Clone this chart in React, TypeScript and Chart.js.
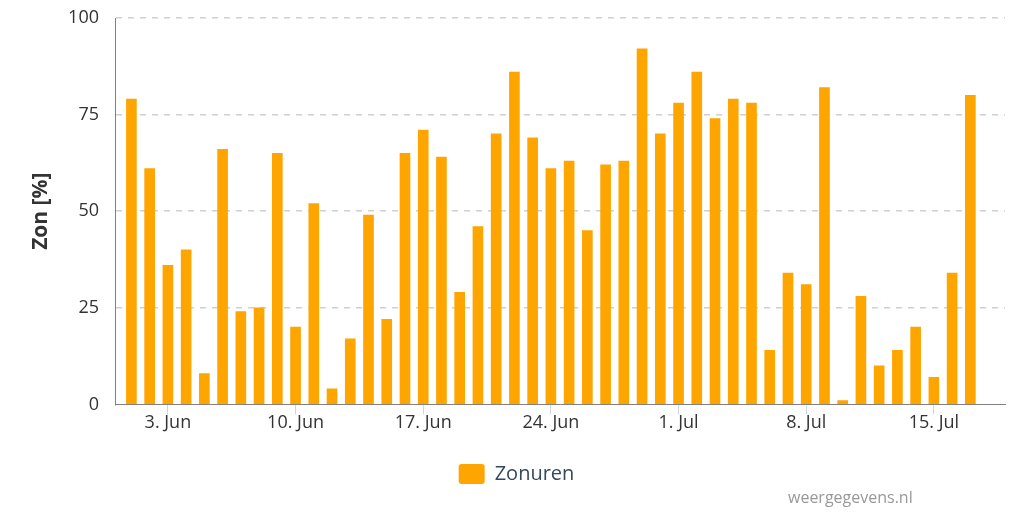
import React, { useEffect, useRef } from 'react';
import { Chart, registerables } from 'chart.js';

Chart.register(...registerables);

const days = [
  '06-01', '06-02', '06-03', '06-04', '06-05', '06-06', '06-07', '06-08', '06-09', '06-10',
  '06-11', '06-12', '06-13', '06-14', '06-15', '06-16', '06-17', '06-18', '06-19', '06-20',
  '06-21', '06-22', '06-23', '06-24', '06-25', '06-26', '06-27', '06-28', '06-29', '06-30',
  '07-01', '07-02', '07-03', '07-04', '07-05', '07-06', '07-07', '07-08', '07-09', '07-10',
  '07-11', '07-12', '07-13', '07-14', '07-15', '07-16', '07-17',
];

const sunPercent = [
  79, 61, 36, 40, 8, 66, 24, 25, 65, 20,
  52, 4, 17, 49, 22, 65, 71, 64, 29, 46,
  70, 86, 69, 61, 63, 45, 62, 63, 92, 70,
  78, 86, 74, 79, 78, 14, 34, 31, 82, 1,
  28, 10, 14, 20, 7, 34, 80,
];

const tickDays = ['06-03', '06-10', '06-17', '06-24', '07-01', '07-08', '07-15'];
const tickLabels = ['3. Jun', '10. Jun', '17. Jun', '24. Jun', '1. Jul', '8. Jul', '15. Jul'];
const yTicks = [0, 25, 50, 75, 100];

const seriesName = 'Zonuren';
const yTitle = 'Zon [%]';
const credit = 'weergegevens.nl';

const xMin = -0.9;
const xMax = 47.9;

const FONT = "'Open Sans', 'Noto Sans', sans-serif";

const shiftLegend = {
  id: 'shiftLegend',
  afterLayout(chart: any) {
    if (chart.legend) {
      chart.legend.left += 14;
      chart.legend.right += 14;
    }
  },
};

export default function App() {
  const ref = useRef<HTMLCanvasElement | null>(null);

  useEffect(() => {
    if (!ref.current) return;
    const chart = new Chart(ref.current, {
      type: 'bar',
      data: {
        datasets: [
          {
            label: seriesName,
            data: days.map((d, i) => ({ x: i, y: sunPercent[i] })),
            backgroundColor: '#FFA500',
            borderColor: '#FFA500',
            borderWidth: 0,
            barThickness: 10,
          },
        ],
      },
      plugins: [shiftLegend],
      options: {
        animation: false,
        responsive: false,
        maintainAspectRatio: false,
        layout: { padding: { top: 18, right: 19, left: 0, bottom: 18 } },
        plugins: {
          tooltip: { enabled: false },
          legend: {
            position: 'bottom',
            labels: {
              boxWidth: 26,
              boxHeight: 20,
              useBorderRadius: true,
              borderRadius: 3,
              color: '#34495e',
              font: { family: FONT, size: 20 },
              padding: 32,
            },
          },
        },
        scales: {
          x: {
            type: 'linear',
            min: xMin,
            max: xMax,
            offset: false,
            afterBuildTicks: (s: any) => {
              s.ticks = tickDays.map((d) => ({ value: days.indexOf(d) }));
            },
            ticks: {
              autoSkip: false,
              maxRotation: 0,
              padding: -2,
              color: '#333333',
              font: { family: FONT, size: 18 },
              callback: (v: any) => tickLabels[tickDays.indexOf(days[v])],
            },
            grid: {
              offset: false,
              drawOnChartArea: false,
              drawTicks: true,
              tickLength: 10,
              tickColor: '#ccd6eb',
              color: '#ccd6eb',
            },
            border: { display: true, color: '#808080', width: 1 },
          },
          y: {
            min: 0,
            max: 100,
            afterBuildTicks: (s: any) => {
              s.ticks = yTicks.map((v) => ({ value: v }));
            },
            afterFit: (s: any) => {
              s.width = 115;
            },
            ticks: {
              padding: 0,
              color: '#333333',
              font: { family: FONT, size: 18 },
            },
            grid: {
              drawTicks: true,
              tickLength: 16,
              tickColor: 'rgba(0,0,0,0)',
              lineWidth: 1.5,
              color: (ctx: any) => (ctx.tick && ctx.tick.value === 0 ? 'rgba(0,0,0,0)' : '#d0d0d0'),
            },
            border: { display: true, color: '#808080', width: 1, dash: [6, 6] },
            title: {
              display: true,
              text: yTitle,
              color: '#333333',
              font: { family: FONT, size: 21, weight: 'bold' },
              padding: { top: 28, bottom: 0 },
            },
          },
        },
      },
    });
    return () => chart.destroy();
  }, []);

  return (
    <div style={{ position: 'fixed', left: 0, top: 0, width: 1024, height: 512, background: '#fff' }}>
      <canvas ref={ref} width={1024} height={512} style={{ width: 1024, height: 512, display: 'block' }} />
      <div
        style={{
          position: 'absolute',
          left: 788,
          top: 486,
          fontFamily: FONT,
          fontSize: 16,
          color: '#999999',
          lineHeight: '22px',
          whiteSpace: 'nowrap',
        }}
      >
        {credit}
      </div>
    </div>
  );
}
